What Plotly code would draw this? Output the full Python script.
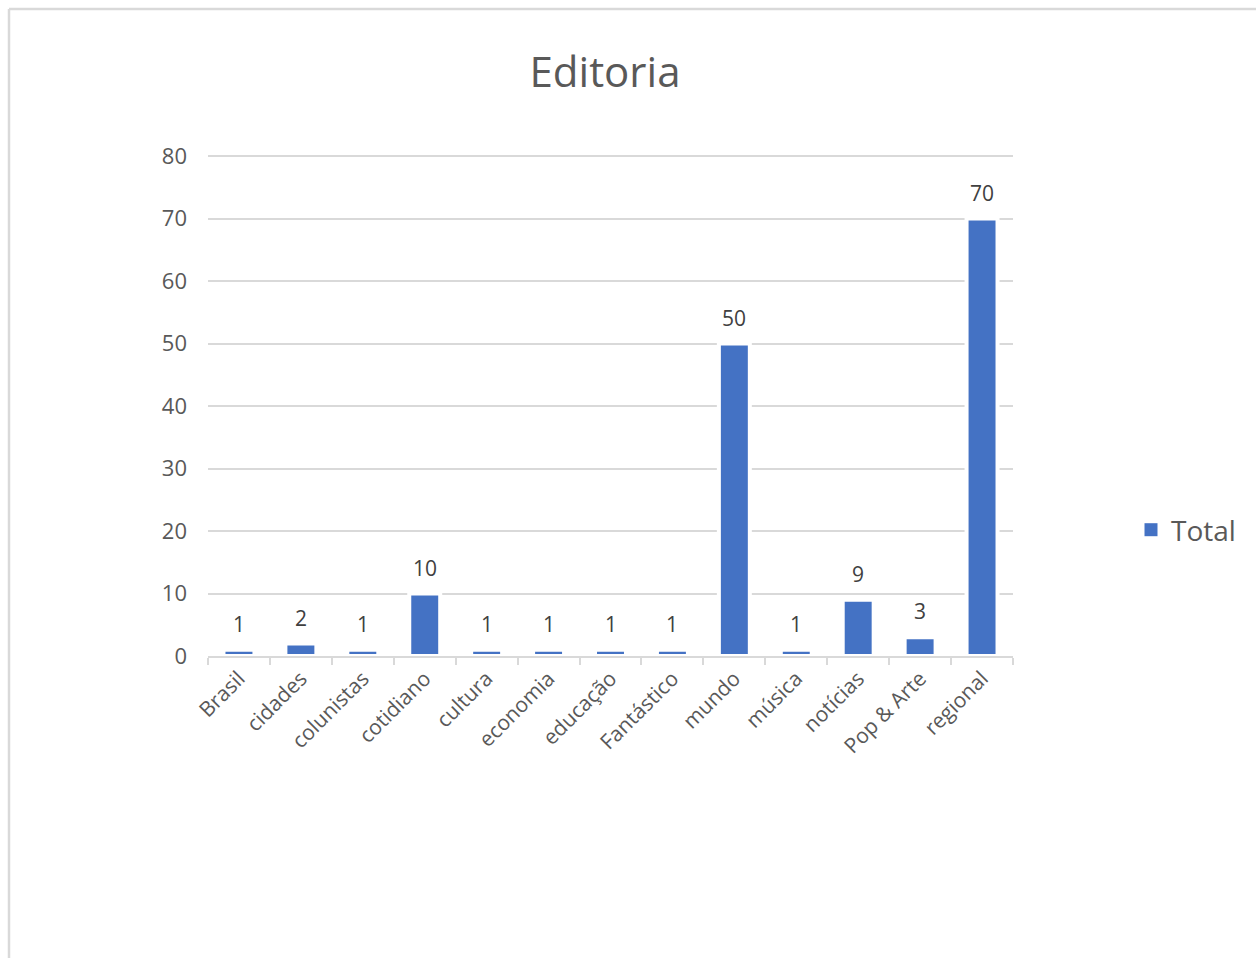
import plotly.graph_objects as go

categories = ["Brasil", "cidades", "colunistas", "cotidiano", "cultura", "economia",
              "educação", "Fantástico", "mundo", "música", "notícias", "Pop & Arte", "regional"]
totals = [1, 2, 1, 10, 1, 1, 1, 1, 50, 1, 9, 3, 70]
y_ticks = [0, 10, 20, 30, 40, 50, 60, 70, 80]

W, H = 1256, 958
L, R, T, B = 208, 1013, 154, 656  # plot area in pixels (2px headroom above 80)

def px_x(p):
    return (p - L) / (R - L)

def px_y(p):
    return (B - p) / (B - T)

FONT = "Segoe UI, Open Sans, sans-serif"
GREY = "#595959"
LINE = "#d9d9d9"
BLUE = "#4472C4"

fig = go.Figure()

fig.add_trace(
    go.Bar(
        x=categories,
        y=totals,
        name="Total",
        marker=dict(color=BLUE, line=dict(color="white", width=4)),
        cliponaxis=False,
        showlegend=False,
    )
)

# legend entry with a plain square swatch
fig.add_trace(
    go.Scatter(
        x=[None], y=[None], mode="markers", name="Total",
        marker=dict(symbol="square", size=13, color=BLUE),
        showlegend=True,
    )
)

# value labels above each bar
for c, v in zip(categories, totals):
    fig.add_annotation(
        x=c, y=v, text=str(v), showarrow=False,
        yanchor="bottom", yshift=10,
        font=dict(family=FONT, size=21, color="#404040"),
    )

fig.update_layout(
    width=W,
    height=H,
    margin=dict(l=L, r=W - R, t=T, b=H - B, autoexpand=False),
    paper_bgcolor="white",
    plot_bgcolor="white",
    bargap=0.5,
    font=dict(family=FONT, color=GREY),
    title=dict(
        text="Editoria",
        x=px_x(605), xref="paper", xanchor="center",
        y=1 - 72 / H, yref="container", yanchor="middle",
        font=dict(family=FONT, size=42, color=GREY),
    ),
    legend=dict(
        x=px_x(1131), y=px_y(530), xanchor="left", yanchor="middle",
        font=dict(family=FONT, size=28, color=GREY),
        bgcolor="rgba(0,0,0,0)",
    ),
    xaxis=dict(
        type="category",
        showline=True, linecolor=LINE, linewidth=2,
        ticks="outside", tickson="boundaries", ticklen=7, tickcolor=LINE, tickwidth=2,
        tickangle=-45,
        tickfont=dict(family=FONT, size=21, color=GREY),
        showgrid=False,
    ),
    yaxis=dict(
        range=[0, 80 * (B - T) / 500],
        tickvals=y_ticks,
        showgrid=True, gridcolor=LINE, gridwidth=2,
        zeroline=False, showline=False,
        ticks="", ticklabelstandoff=20,
        tickfont=dict(family=FONT, size=22, color=GREY),
    ),
    shapes=[
        dict(type="line", xref="paper", yref="paper",
             x0=px_x(9), x1=px_x(W + 20), y0=px_y(9), y1=px_y(9),
             line=dict(color=LINE, width=2.5)),
        dict(type="line", xref="paper", yref="paper",
             x0=px_x(9), x1=px_x(9), y0=px_y(9), y1=px_y(H + 20),
             line=dict(color=LINE, width=2.5)),
    ],
)

fig.write_html("out.html")
